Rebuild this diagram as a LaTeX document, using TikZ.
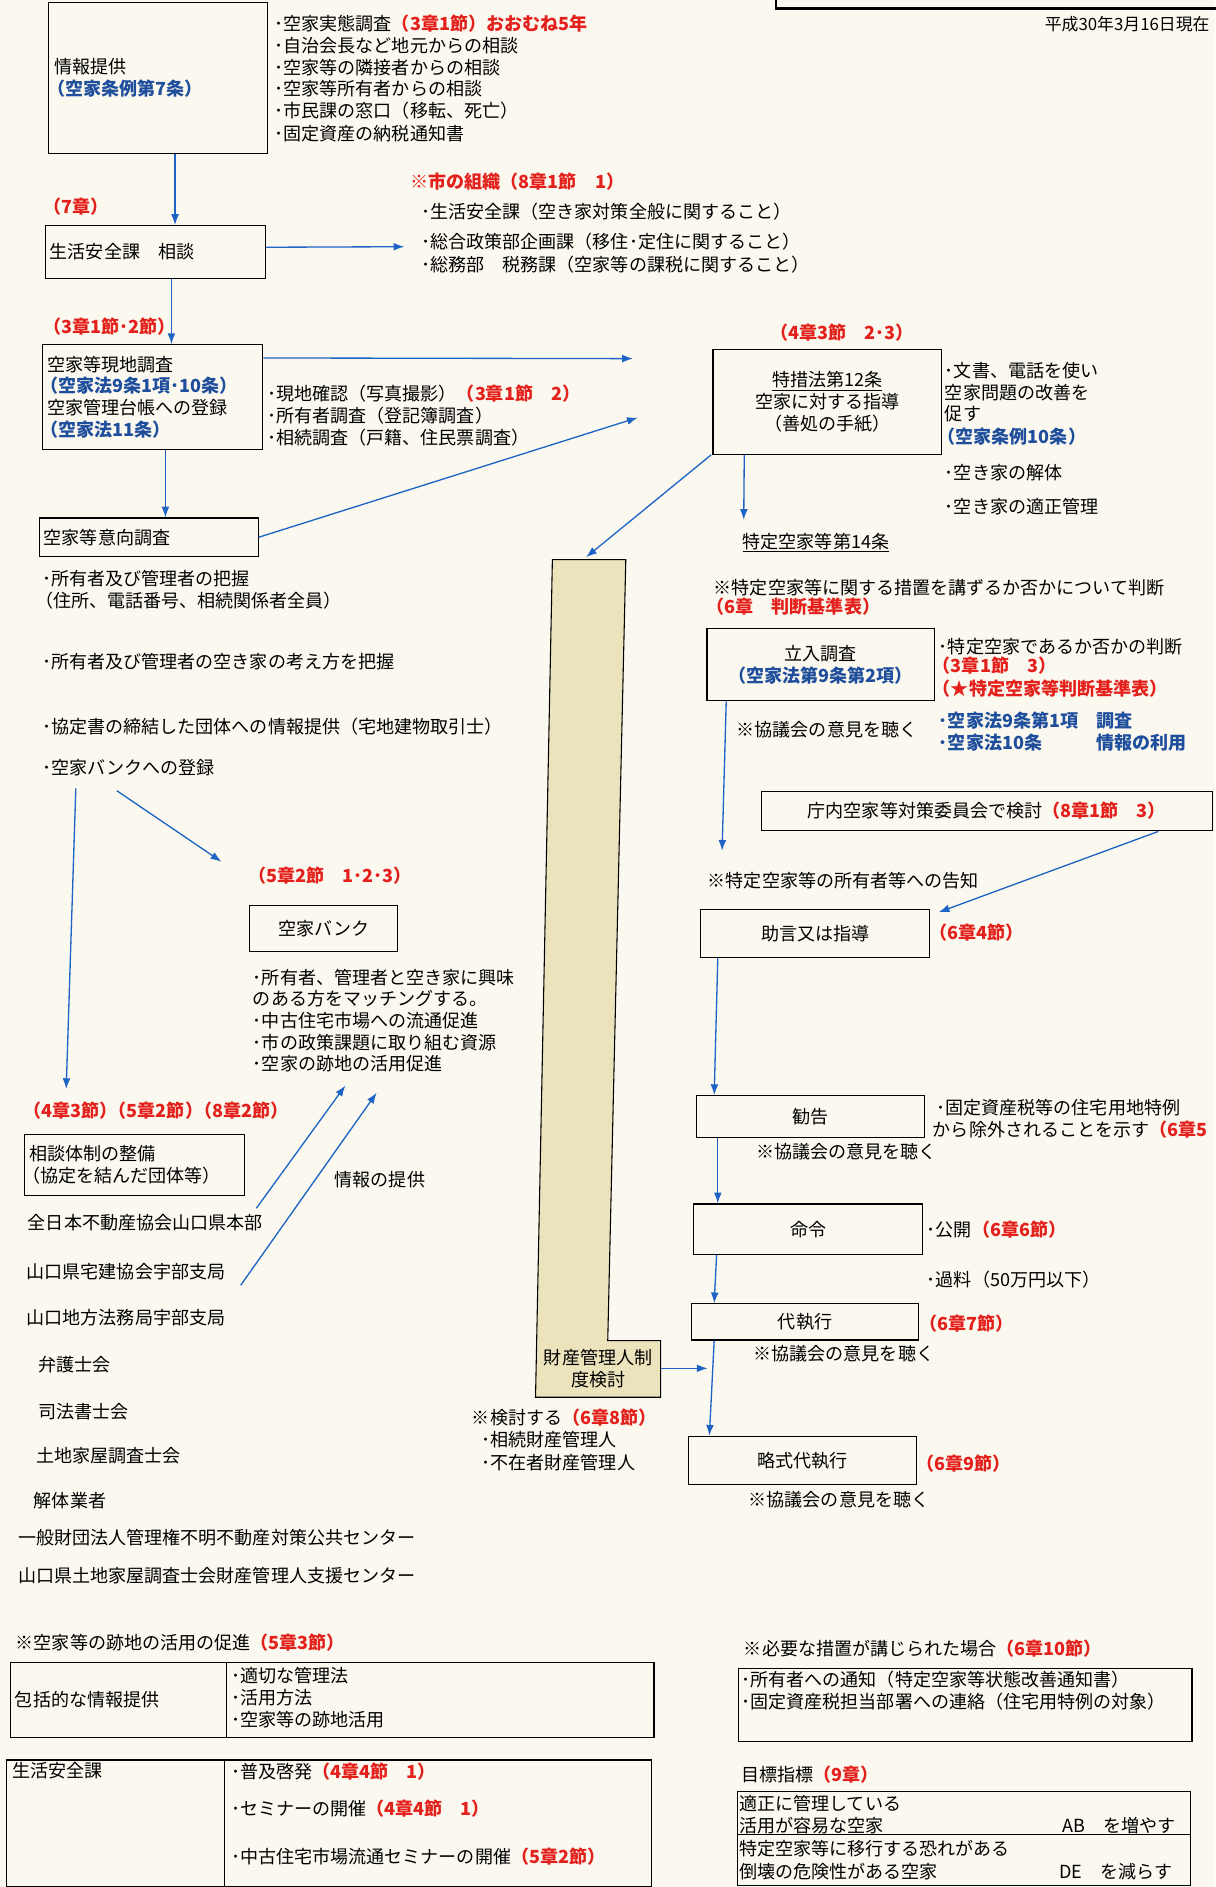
\documentclass[tikz,border=0pt]{standalone}
\usepackage{fontspec}
\newfontfamily\jp{Noto Sans CJK JP}
\usetikzlibrary{arrows.meta,calc}
\definecolor{rd}{HTML}{E3201B}
\definecolor{bl}{HTML}{1F4E9C}
\definecolor{ab}{HTML}{1E63C6}
\definecolor{bg}{HTML}{FBF9EF}
\definecolor{tanc}{HTML}{EBE3BC}
\newcommand\rtx[1]{\textcolor{rd}{\bfseries #1}}
\newcommand\btx[1]{\textcolor{bl}{\bfseries #1}}
\newcommand\ulx[1]{\setbox0\hbox{#1}\rlap{\raisebox{-3.5pt}{\rule{\wd0}{0.9pt}}}\box0}
\begin{document}
\begin{tikzpicture}[x=1pt,y=-1pt,
  t/.style={anchor=west, inner sep=0pt, font=\jp\fontsize{15}{18}\selectfont, text=black},
  box/.style={draw=black, line width=0.9pt, inner sep=0pt, anchor=north west, font=\jp\fontsize{15}{18}\selectfont},
  arr/.style={draw=ab, line width=1.1pt, -{Latex[length=9pt,width=6.5pt]}}]
\fill[bg] (0,0) rectangle (1010,1568);
\useasboundingbox (0,0) rectangle (1010,1568);

% top right frame and date
\draw[line width=1.8pt] (645,-2) -- (645,7) -- (1012,7);
\node[t, font=\jp\fontsize{14}{16}\selectfont] (date) at (868,20) {平成30年3月16日現在};

% boxes
\node[box, minimum width=182, minimum height=125, text width=172, align=left] (A) at (40,2) {情報提供\\\hspace*{-6pt}\btx{（空家条例第7条）}};
\node[box, minimum width=183, minimum height=44, text width=175, align=left] (B) at (37,187) {生活安全課　相談};
\node[box, minimum width=183, minimum height=87, text width=175, align=left] (C) at (35,286) {空家等現地調査\\\hspace*{-6pt}\btx{（空家法9条1項･10条）}\\空家管理台帳への登録\\\hspace*{-6pt}\btx{（空家法11条）}};
\node[box, minimum width=182, minimum height=32, text width=174, align=left] (E) at (32,430) {空家等意向調査};
\node[box, minimum width=123, minimum height=38, align=center] (bank) at (207,752) {空家バンク};
\node[box, minimum width=183, minimum height=51, text width=175, align=left] (soudan) at (20,942) {相談体制の整備\\\hspace*{-6pt}（協定を結んだ団体等）};
\node[box, minimum width=190, minimum height=87, align=center] (D) at (592,290) {\ulx{特措法第12条}\\空家に対する指導\\（善処の手紙）};
\node[box, minimum width=189, minimum height=60, align=center] (tachi) at (587,522) {立入調査\\\btx{（空家法第9条第2項）}};
\node[box, minimum width=375, minimum height=33, align=center] (chonai) at (632,657) {庁内空家等対策委員会で検討\rtx{（8章1節　3）}};
\node[box, minimum width=190, minimum height=40] (jogen) at (582,755) {助言又は指導};
\node[box, minimum width=190, minimum height=35] (kankoku) at (578,910) {勧告};
\node[box, minimum width=190, minimum height=42] (meirei) at (576,1000) {命令};
\node[box, minimum width=189, minimum height=30] (daishikko) at (574,1083) {代執行};
\node[box, minimum width=189, minimum height=40] (ryaku) at (572,1193) {略式代執行};

% tan column
\draw[line width=0.9pt, fill=tanc] (459,465) -- (520,465) -- (505,1114) -- (549,1114) -- (549,1161) -- (445,1161) -- cycle;
\node[inner sep=0pt, minimum width=104, minimum height=47, align=center, font=\jp\fontsize{15}{18}\selectfont] (zaisan) at (497,1137) {財産管理人制\\度検討};

% list next to A
\node[t] (a1) at (228,20) {･空家実態調査\rtx{（3章1節）おおむね5年}};
\node[t] (a2) at (228,38) {･自治会長など地元からの相談};
\node[t] (a3) at (228,56) {･空家等の隣接者からの相談};
\node[t] (a4) at (228,74) {･空家等所有者からの相談};
\node[t] (a5) at (228,92) {･市民課の窓口（移転、死亡）};
\node[t] (a6) at (228,111) {･固定資産の納税通知書};

\node[t] (l7) at (36,172) {\rtx{（7章）}};
\node[t] (o0) at (341,151) {\rtx{※市の組織（8章1節　1）}};
\node[t] (o1) at (350,176) {･生活安全課（空き家対策全般に関すること）};
\node[t] (o2) at (350,201) {･総合政策部企画課（移住･定住に関すること）};
\node[t] (o3) at (350,220) {･総務部　税務課（空家等の課税に関すること）};

\node[t] (l31) at (36,271) {\rtx{（3章1節･2節）}};
\node[t] (c1) at (222,327) {･現地確認（写真撮影）\rtx{（3章1節　2）}};
\node[t] (c2) at (222,345) {･所有者調査（登記簿調査）};
\node[t] (c3) at (222,364) {･相続調査（戸籍、住民票調査）};

\node[t] (e1) at (35,481) {･所有者及び管理者の把握};
\node[t] (e2) at (29,499) {（住所、電話番号、相続関係者全員）};
\node[t] (e3) at (35,550) {･所有者及び管理者の空き家の考え方を把握};
\node[t] (e4) at (35,604) {･協定書の締結した団体への情報提供（宅地建物取引士）};
\node[t] (bankreg) at (35,638) {･空家バンクへの登録};

\node[t] (l52) at (206,728) {\rtx{（5章2節　1･2･3）}};
\node[t] (k1) at (210,812) {･所有者、管理者と空き家に興味};
\node[t] (k2) at (210,830) {のある方をマッチングする。};
\node[t] (k3) at (210,848) {･中古住宅市場への流通促進};
\node[t] (k4) at (210,866) {･市の政策課題に取り組む資源};
\node[t] (k5) at (210,884) {･空家の跡地の活用促進};
\node[t] (info) at (278,980) {情報の提供};

\node[t] (l43) at (19,923) {\rtx{（4章3節）\kern-7pt（5章2節）\kern-7pt（8章2節）}};
\node[t] (g1) at (23,1016) {全日本不動産協会山口県本部};
\node[t] (g2) at (22,1057) {山口県宅建協会宇部支局};
\node[t] (g3) at (22,1095) {山口地方法務局宇部支局};
\node[t] (g4) at (32,1134) {弁護士会};
\node[t] (g5) at (32,1173) {司法書士会};
\node[t] (g6) at (30,1210) {土地家屋調査士会};
\node[t] (g7) at (28,1247) {解体業者};
\node[t] (g8) at (15,1278) {一般財団法人管理権不明不動産対策公共センター};
\node[t] (g9) at (15,1309) {山口県土地家屋調査士会財産管理人支援センター};

\node[t] (z1) at (392,1178) {※検討する\rtx{（6章8節）}};
\node[t] (z2) at (400,1196) {･相続財産管理人};
\node[t] (z3) at (400,1215) {･不在者財産管理人};

% right side texts
\node[t] (l432) at (640,276) {\rtx{（4章3節　2･3）}};
\node[t] (d1) at (785,308) {･文書、電話を使い};
\node[t] (d2) at (785,326) {空家問題の改善を};
\node[t] (d3) at (785,344) {促す};
\node[t] (d4) at (779,363) {\btx{（空家条例10条）}};
\node[t] (d5) at (785,393) {･空き家の解体};
\node[t] (d6) at (785,421) {･空き家の適正管理};
\node[t] (t14) at (617,451) {\ulx{特定空家等第14条}};
\node[t] (h1) at (593,488) {※特定空家等に関する措置を講ずるか否かについて判断};
\node[t] (h2) at (587,504) {\rtx{（6章　判断基準表）}};
\node[t] (r1) at (780,537) {･特定空家であるか否かの判断};
\node[t] (r2) at (775,553) {\rtx{（3章1節　3）}};
\node[t] (r3) at (775,572) {\rtx{（★特定空家等判断基準表）}};
\node[t] (q1) at (612,606) {※協議会の意見を聴く};
\node[t] (r4) at (780,599) {\btx{･空家法9条第1項　調査}};
\node[t] (r5) at (780,617) {\btx{･空家法10条　　　情報の利用}};
\node[t] (kokuchi) at (588,732) {※特定空家等の所有者等への告知};
\node[t] (s4) at (772,775) {\rtx{（6章4節）}};
\node[t] (s5a) at (778,920) {･固定資産税等の住宅用地特例};
\node[t] (s5b) at (775,939) {から除外されることを示す\rtx{（6章5}};
\node[t] (q2) at (628,957) {※協議会の意見を聴く};
\node[t] (s6) at (770,1022) {･公開\rtx{（6章6節）}};
\node[t] (s6b) at (770,1063) {･過料（50万円以下）};
\node[t] (s7) at (764,1100) {\rtx{（6章7節）}};
\node[t] (q3) at (626,1125) {※協議会の意見を聴く};
\node[t] (s9) at (761,1216) {\rtx{（6章9節）}};
\node[t] (q4) at (622,1246) {※協議会の意見を聴く};

% bottom tables
\node[t] (b0) at (13,1365) {※空家等の跡地の活用の促進\rtx{（5章3節）}};
\node[box, minimum width=180, minimum height=62, text width=172, align=left] (c1a) at (8,1381) {包括的な情報提供};
\node[box, minimum width=355, minimum height=62] (c1b) at (188,1381) {};
\node[t] (b1) at (192,1392) {･適切な管理法};
\node[t] (b2) at (192,1411) {･活用方法};
\node[t] (b3) at (192,1429) {･空家等の跡地活用};
\node[box, minimum width=181, minimum height=105] (c2a) at (5,1462) {};
\node[box, minimum width=355, minimum height=105] (c2b) at (186,1462) {};
\node[t] (b4) at (10,1471) {生活安全課};
\node[t] (b5) at (192,1472) {･普及啓発\rtx{（4章4節　1）}};
\node[t] (b6) at (192,1503) {･セミナーの開催\rtx{（4章4節　1）}};
\node[t] (b7) at (192,1543) {･中古住宅市場流通セミナーの開催\rtx{（5章2節）}};

\node[t] (m0) at (618,1370) {※必要な措置が講じられた場合\rtx{（6章10節）}};
\node[box, minimum width=377, minimum height=61] (must) at (613,1386) {};
\node[t] (m1) at (616,1396) {･所有者への通知（特定空家等状態改善通知書）};
\node[t] (m2) at (616,1414) {･固定資産税担当部署への連絡（住宅用特例の対象）};
\node[t] (m3) at (616,1475) {目標指標\rtx{（9章）}};
\node[box, minimum width=377, minimum height=36] (goal1) at (612,1488) {};
\node[box, minimum width=377, minimum height=42] (goal2) at (612,1524) {};
\node[t] (m4) at (614,1499) {適正に管理している};
\node[t] (m5) at (614,1517) {活用が容易な空家};
\node[t] (m6) at (883,1517) {AB　を増やす};
\node[t] (m7) at (614,1536) {特定空家等に移行する恐れがある};
\node[t] (m8) at (614,1555) {倒壊の危険性がある空家};
\node[t] (m9) at (880,1555) {DE　を減らす};

% free-end coordinates
\coordinate (orgL) at (336,205);
\coordinate (dL) at (526,298);
\coordinate (eL) at (530,347);
\coordinate (rs1) at (63,655);
\coordinate (re1) at (55,905);
\coordinate (rs2) at (97,657);
\coordinate (re2) at (184,716);
\coordinate (us1) at (213,1004);
\coordinate (ue1) at (287,902);
\coordinate (us2) at (200,1068);
\coordinate (ue2) at (313,908);
\coordinate (k14) at (618,432);
\coordinate (colTop) at (487,463);
\coordinate (tachiE) at (600,707);
\coordinate (jogenIn) at (780,758);
\coordinate (zL) at (588,1137);

% connectors
\draw[arr] ($(A.south)+(14,0)$) -- ($(B.north)+(16.5,0)$);
\draw[arr] ($(B.east)+(0,-4)$) -- (orgL);
\draw[arr] ($(B.south)+(13.5,0)$) -- ($(C.north)+(15.5,0)$);
\draw[arr] ($(C.east)+(0,-32.5)$) -- (dL);
\draw[arr] (E.east) -- (eL);
\draw[arr] ($(C.south)+(10.5,0)$) -- ($(E.north)+(14,0)$);
\draw[arr] (rs1) -- (re1);
\draw[arr] (rs2) -- (re2);
\draw[arr] (us1) -- (ue1);
\draw[arr] (us2) -- (ue2);
\draw[arr] ($(D.south)+(-69,0)$) -- (k14);
\draw[arr] ($(D.south west)+(-1,0)$) -- (colTop);
\draw[arr] ($(tachi.south)+(-78.5,0)$) -- (tachiE);
\draw[arr] ($(chonai.south)+(142.5,0)$) -- (jogenIn);
\draw[arr] ($(jogen.south)+(-81,0)$) -- ($(kankoku.north)+(-80,0)$);
\draw[arr] ($(kankoku.south)+(-77,0)$) -- ($(meirei.north)+(-75,0)$);
\draw[arr] ($(meirei.south)+(-76,0)$) -- ($(daishikko.north)+(-75.5,0)$);
\draw[arr] ($(daishikko.south)+(-75.5,0)$) -- ($(ryaku.north)+(-77.5,0)$);
\draw[arr] (zaisan.east) -- (zL);
\end{tikzpicture}
\end{document}
